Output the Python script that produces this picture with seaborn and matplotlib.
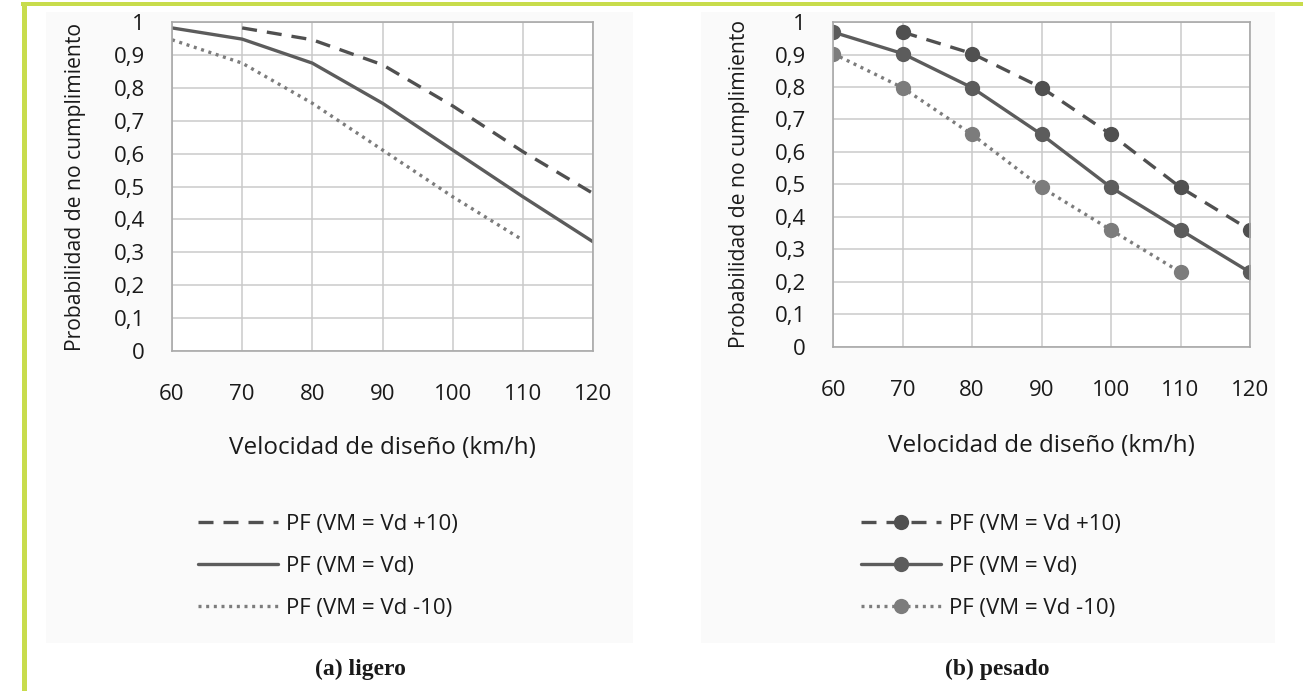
import matplotlib
matplotlib.use("Agg")
import matplotlib.pyplot as plt
import seaborn as sns
import numpy as np
import pandas as pd
from matplotlib.patches import Rectangle
from matplotlib.ticker import FuncFormatter, MultipleLocator

# ---------------- data ----------------
velocidad = [60, 70, 80, 90, 100, 110, 120]

# (a) ligero
lig_mas10 = [None, 0.982, 0.946, 0.870, 0.745, 0.606, 0.479]
lig_vd = [0.982, 0.948, 0.875, 0.753, 0.611, 0.469, 0.332]
lig_menos10 = [0.946, 0.875, 0.753, 0.611, 0.469, 0.337, None]

# (b) pesado
pes_mas10 = [None, 0.969, 0.903, 0.798, 0.654, 0.491, 0.360]
pes_vd = [0.969, 0.903, 0.798, 0.654, 0.491, 0.360, 0.230]
pes_menos10 = [0.903, 0.798, 0.654, 0.491, 0.360, 0.230, None]

labels = ["PF (VM = Vd +10)", "PF (VM = Vd)", "PF (VM = Vd -10)"]
xlabel = "Velocidad de diseño (km/h)"
ylabel = "Probabilidad de no cumplimiento"
captions = ["(a) ligero", "(b) pesado"]

# ---------------- style ----------------
sns.set_theme(style="white")
plt.rcParams["font.family"] = ["Open Sans", "DejaVu Sans"]

W, H = 1303, 691
fig = plt.figure(figsize=(W / 100, H / 100), dpi=100)
fig.patch.set_facecolor("white")


def px_axes(l, r, t, b):
    return fig.add_axes([l / W, 1 - b / H, (r - l) / W, (b - t) / H])


# faint panel backgrounds
for (l, r) in [(46, 633), (701, 1275)]:
    fig.add_artist(Rectangle((l / W, 1 - 643 / H), (r - l) / W, (643 - 12) / H,
                             transform=fig.transFigure, facecolor="#fafafa",
                             edgecolor="none", zorder=-10))

# green frame
fig.add_artist(Rectangle((21 / W, 1 - 6 / H), (W - 21) / W, 4 / H,
                         transform=fig.transFigure, facecolor="#c8dc4c",
                         edgecolor="none"))
fig.add_artist(Rectangle((22 / W, 0), 5 / W, 1 - 2 / H,
                         transform=fig.transFigure, facecolor="#c8dc4c",
                         edgecolor="none"))

ax1 = px_axes(172, 593, 22, 351)
ax2 = px_axes(833, 1250, 22, 347)

dash = (0, (4.5, 3.0))
dot = (0, (0.9, 1.4))
c_dash, c_solid, c_dot = "#505050", "#5c5c5c", "#7c7c7c"

series_l = [lig_mas10, lig_vd, lig_menos10]
series_p = [pes_mas10, pes_vd, pes_menos10]
styles = [(dash, c_dash), ("-", c_solid), (dot, c_dot)]


def draw(ax, series, markers):
    for vals, lab, (ls, col) in zip(series, labels, styles):
        df = pd.DataFrame({"v": velocidad, "p": vals}).dropna()
        kw = dict(marker="o", markersize=11, markeredgewidth=0,
                  markerfacecolor=col) if markers else {}
        sns.lineplot(data=df, x="v", y="p", ax=ax, color=col, linestyle=ls,
                     linewidth=2.4, label=lab, legend=False, **kw)


draw(ax1, series_l, False)
draw(ax2, series_p, True)

fmt = FuncFormatter(lambda v, p: ("%g" % round(v, 2)).replace(".", ","))
for ax, ycen in [(ax1, 448), (ax2, 446)]:
    ax.set_xlim(60, 120)
    ax.set_ylim(0, 1)
    ax.xaxis.set_major_locator(MultipleLocator(10))
    ax.yaxis.set_major_locator(MultipleLocator(0.1))
    ax.yaxis.set_major_formatter(fmt)
    ax.grid(True, color="#cacaca", linewidth=1.1)
    ax.set_axisbelow(True)
    ax.set_facecolor("white")
    for s in ax.spines.values():
        s.set_color("#a9a9a9")
        s.set_linewidth(1.2)
    ax.tick_params(axis="both", length=0, labelsize=16, colors="#1a1a1a")
    ax.tick_params(axis="y", pad=19.5)
    ax.tick_params(axis="x", pad=24)
    ax.set_xlabel(xlabel, fontsize=17.5, color="#1a1a1a", va="center")
    ax.set_ylabel(ylabel, fontsize=15.2, color="#1a1a1a", va="center")
    bb = ax.get_position()
    hpx = bb.height * H
    ax.xaxis.set_label_coords(0.5, -(ycen - (1 - bb.y0) * H) / hpx)

ax1.yaxis.set_label_coords(-(172 - 76) / (593 - 172), 0.5)
ax2.yaxis.set_label_coords(-(833 - 739) / (1250 - 833), 0.5)

# legends
for ax, x0 in [(ax1, 198), (ax2, 861)]:
    h, l = ax.get_legend_handles_labels()
    fig.legend(h, l, loc="upper left", bbox_to_anchor=(x0 / W, 1 - 514 / H),
               frameon=False, fontsize=16, handlelength=3.6, handletextpad=0.38,
               labelspacing=0.95, borderpad=0, borderaxespad=0,
               labelcolor="#1a1a1a")

for txt, xc in zip(captions, [360, 997]):
    fig.text(xc / W, 1 - 669 / H, txt, ha="center", va="center",
             family=["Liberation Serif", "DejaVu Serif"], fontweight="bold",
             fontsize=17, color="#1a1a1a")

fig.savefig("out.png", dpi=100, facecolor="white")
